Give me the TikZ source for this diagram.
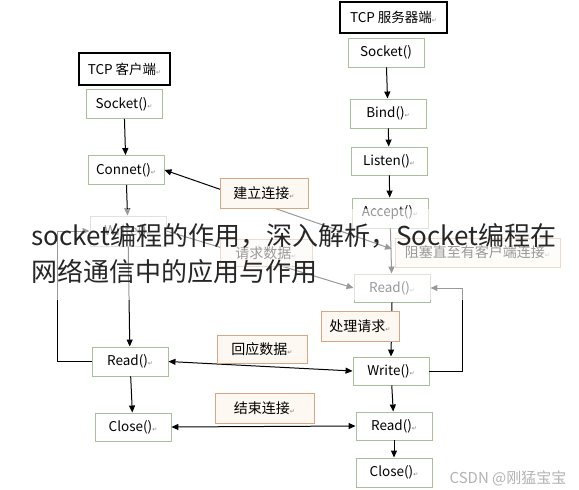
\documentclass[tikz,border=0pt]{standalone}
\usepackage{fontspec}
\setmainfont{Noto Sans CJK SC}
\newfontfamily\dvfont{DejaVu Sans}
\usetikzlibrary{arrows.meta}
\definecolor{fgreen}{HTML}{A9BE9B}
\definecolor{lborder}{HTML}{D9A582}
\definecolor{lfill}{HTML}{FDF8F1}
\newcommand\retmark{{\dvfont\fontsize{6}{6}\selectfont\textcolor{gray}{↵}}}
\begin{document}
\begin{tikzpicture}[x=1pt,y=-1pt,
  funcbox/.style={draw=fgreen, fill=white, line width=0.9pt, minimum width=76pt, minimum height=29pt, inner sep=0pt, font=\fontsize{13.5}{15}\selectfont},
  titlebox/.style={draw=black, fill=white, line width=1.1pt, minimum height=31pt, inner sep=0pt, font=\fontsize{13.5}{15}\selectfont},
  labbox/.style={draw=lborder, fill=lfill, line width=0.9pt, minimum height=29pt, inner sep=0pt, font=\fontsize{14}{16}\selectfont},
  arr/.style={-{Triangle[length=7pt,width=6pt]}, line width=1pt},
  darr/.style={{Triangle[length=7pt,width=6pt]}-{Triangle[length=7pt,width=6pt]}, line width=1pt},
  ovtext/.style={anchor=west, inner sep=0pt, text=black!85, font=\fontsize{26}{30}\selectfont},
  wmark/.style={inner sep=0pt, text=black!30, font=\fontsize{15}{17}\selectfont}
]
\useasboundingbox (0,0) rectangle (579,490);
% client nodes
\node[titlebox, minimum width=91pt, minimum height=32pt] (ct) at (124.5,69) {TCP 客户端\retmark};
\node[funcbox] (cs) at (124,104) {Socket()\retmark};
\node[funcbox] (cc) at (126,170) {Connet()\retmark};
\node[funcbox, minimum height=30pt] (cw) at (128,231) {Write()\retmark};
\node[funcbox] (cr) at (130,361.5) {Read()\retmark};
\node[funcbox, minimum height=28pt] (cl) at (133,427) {Close()\retmark};
% server nodes
\node[titlebox, minimum width=107pt] (st) at (393.5,17.5) {TCP 服务器端\retmark};
\node[funcbox] (ss) at (386,52.5) {Socket()};
\node[funcbox] (sb) at (388,113.5) {Bind()\retmark};
\node[funcbox, minimum height=28pt] (sl) at (389,161) {Listen()\retmark};
\node[funcbox, minimum height=30pt] (sa) at (390,213) {Accept()\retmark};
\node[funcbox, minimum height=28pt] (sr) at (392,288) {Read()\retmark};
\node[funcbox, minimum height=28pt] (sw) at (391,371) {Write()\retmark};
\node[funcbox, minimum height=28pt] (sr2) at (394,426) {Read()\retmark};
\node[funcbox] (sc) at (394,472.5) {Close()\retmark};
\coordinate (acc) at (392,249);
% connectors
\draw[arr] (cs) -- (cc);
\draw[arr] (cc) -- (cw);
\draw[arr] (cw) -- (cr);
\draw[arr] (cr) -- (cl);
\draw[arr] (cr.west) -- (57,361.5) -- (57,231) -- (cw.west);
\draw[arr] (ss) -- (sb);
\draw[arr] (sb) -- (sl);
\draw[arr] (sl) -- (sa);
\draw[arr] (sa) -- (sr);
\draw[arr] (sr.south) -- (sw.north);
\draw[arr] (sw) -- (sr2);
\draw[arr] (sr2.south) -- (sc.north);
\draw[arr] (sw.east) -- (462,371) -- (462,288) -- (sr.east);
\draw[darr] (cc.east) -- (acc);
\draw[arr] (cw.east) -- (sr.west);
\draw[darr] (cr.east) -- (sw.west);
\draw[darr] (cl.east) -- (sr2.west);
% label boxes
\node[labbox, minimum width=88pt, minimum height=30pt] (l1) at (264,193) {建立连接\retmark};
\node[labbox, minimum width=92pt, minimum height=27pt] (l2) at (266,253) {请求数据\retmark};
\node[labbox, minimum width=165pt] (l3) at (477.5,252.5) {阻塞直至有客户端连接\retmark};
\node[labbox, minimum width=78pt, minimum height=30pt] (l4) at (360,326) {处理请求\retmark};
\node[labbox, minimum width=90pt, minimum height=28pt] (l5) at (262,349) {回应数据\retmark};
\node[labbox, minimum width=99pt, minimum height=30pt] (l6) at (264.5,408) {结束连接\retmark};
% fading band and overlay title
\fill[white, opacity=0.6] (0,209) rectangle (579,300);
\node[ovtext] (ov1) at (31,236) {socket编程的作用，深入解析，Socket编程在};
\node[ovtext] (ov2) at (31,272) {网络通信中的应用与作用};
\node[wmark] (wm) at (508,478) {CSDN @刚猛宝宝};
\end{tikzpicture}
\end{document}
